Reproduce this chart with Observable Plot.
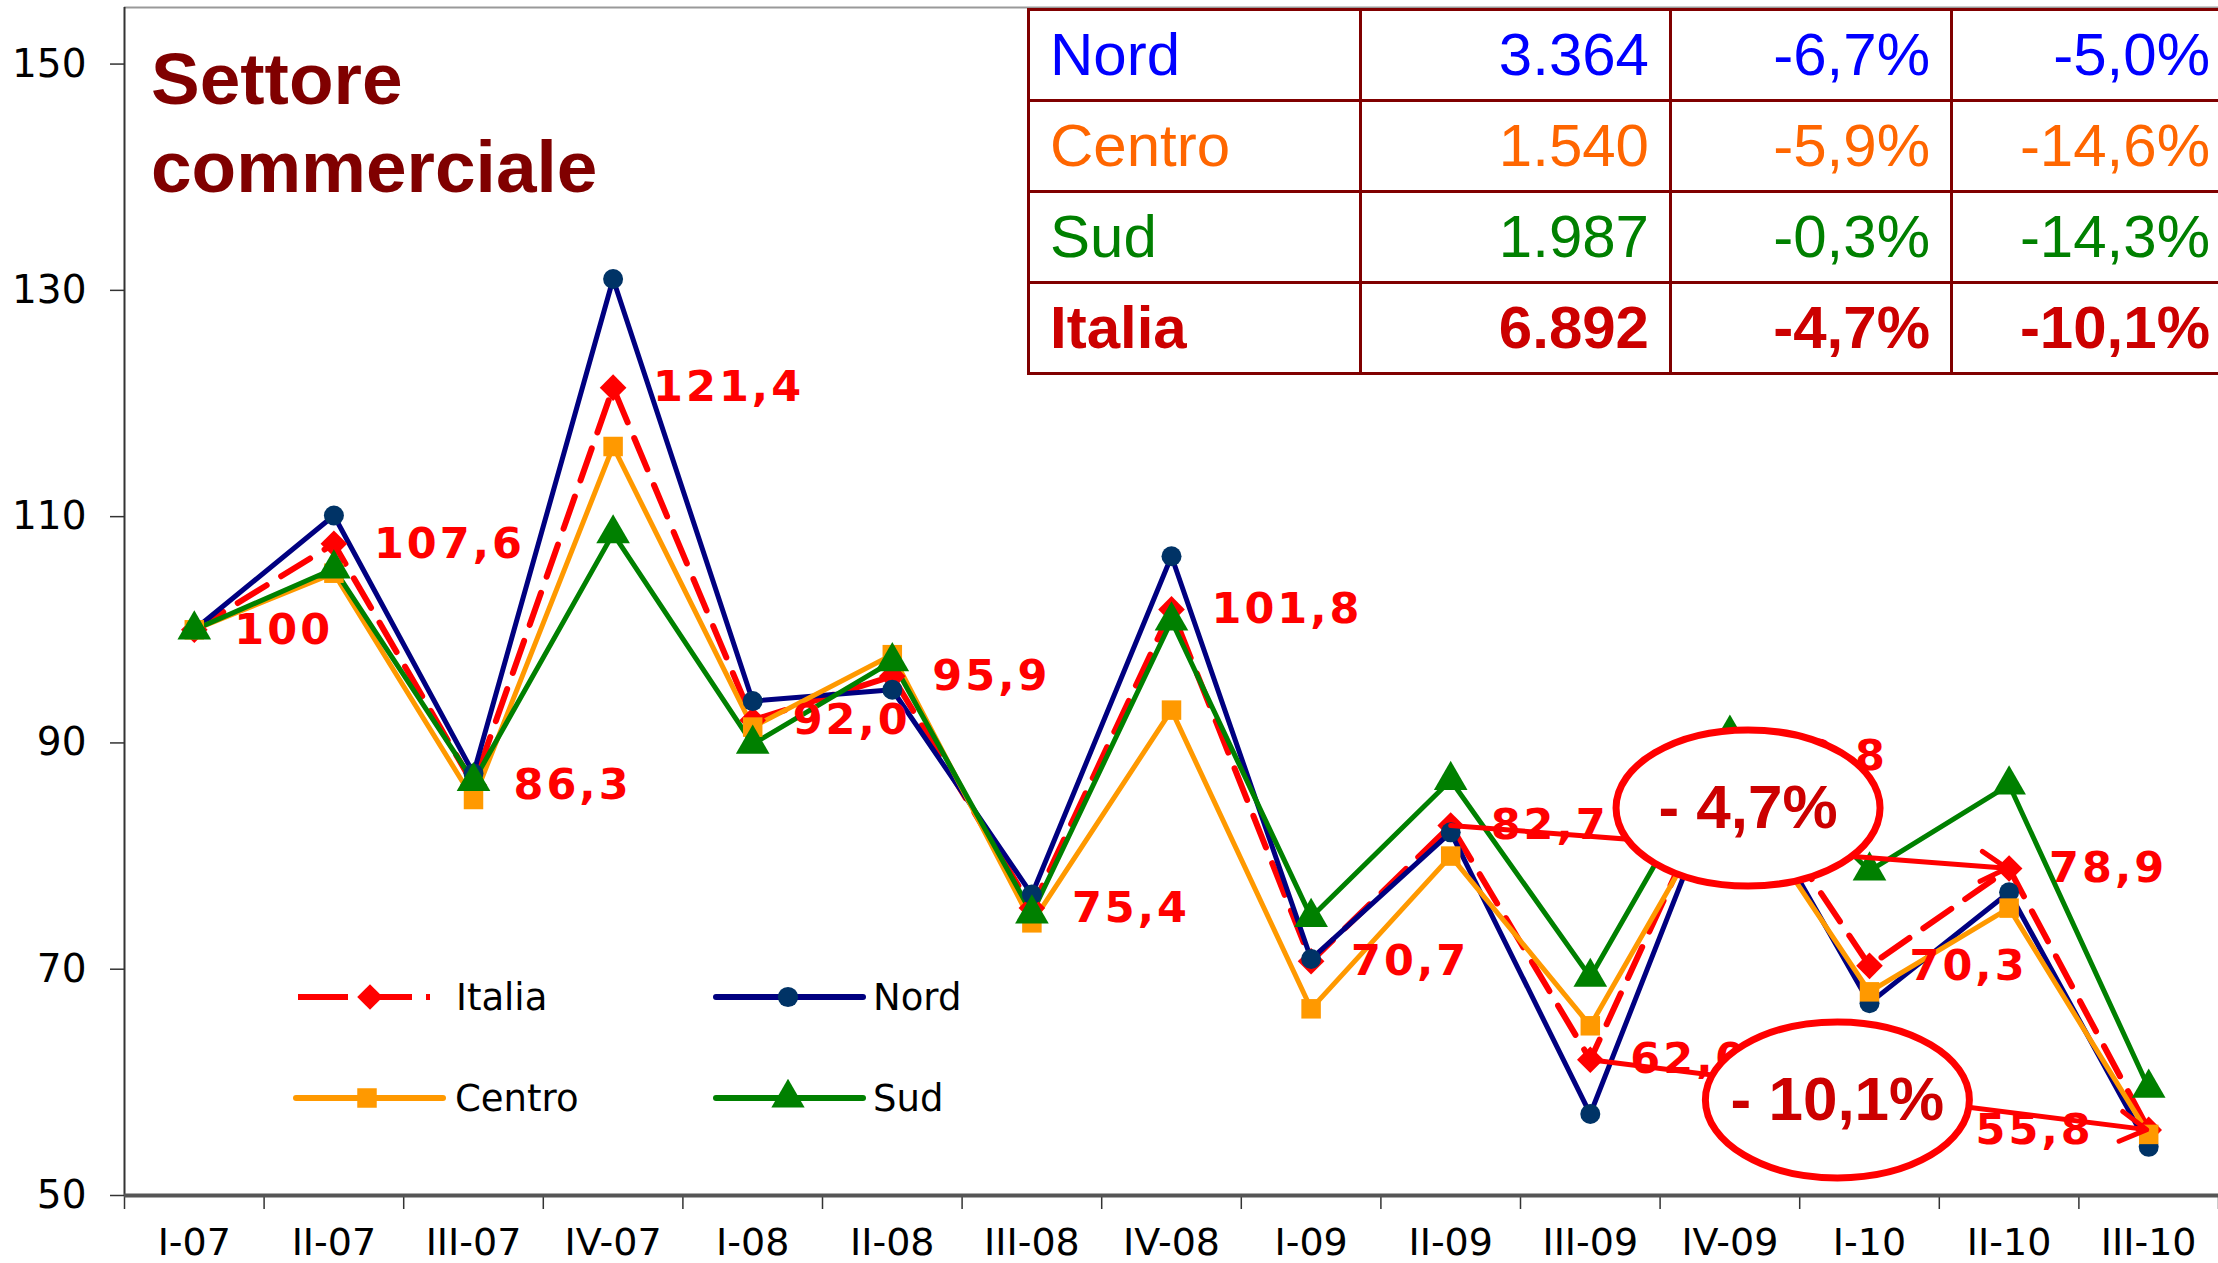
<!DOCTYPE html>
<html>
<head>
<meta charset="utf-8">
<script src="https://cdn.jsdelivr.net/npm/d3@7"></script>
<script src="https://cdn.jsdelivr.net/npm/@observablehq/plot@0.6"></script>
<style>
  html, body { margin: 0; padding: 0; background: #fff; overflow: hidden; }
  #wrap { position: relative; width: 2218px; height: 1263px; overflow: hidden; }
  #title { position: absolute; left: 151px; top: 35px; font-family: "Liberation Sans", Arial, sans-serif;
           font-weight: bold; font-size: 73px; line-height: 88px; color: #800000; }
  #tbl { position: absolute; left: 1027px; top: 8px; border-collapse: collapse; table-layout: fixed; width: 1203px;
         font-family: "Liberation Sans", Arial, sans-serif; font-size: 60px; background: #fff; }
  #tbl td { border: 3px solid #800000; height: 88px; padding: 0 20px; line-height: 88px; white-space: nowrap; overflow: hidden; }
  #tbl td.num { text-align: right; }
  .lbl text { letter-spacing: 3px; }
</style>
</head>
<body>
<div id="wrap">
  <div id="chart"></div>
  <div id="title">Settore<br>commerciale</div>
  <table id="tbl"><colgroup><col style="width:332px"><col style="width:310px"><col style="width:281px"><col style="width:280px"></colgroup></table>
</div>
<script>
// ---- data ----
const quarters = ["I-07","II-07","III-07","IV-07","I-08","II-08","III-08","IV-08","I-09","II-09","III-09","IV-09","I-10","II-10","III-10"];
const italia = [100, 107.6, 86.3, 121.4, 92.0, 95.9, 75.4, 101.8, 70.7, 82.7, 62.0, 88.8, 70.3, 78.9, 55.8];
const nord   = [100, 110.1, 87.3, 131.0, 93.7, 94.7, 76.6, 106.5, 70.9, 82.1, 57.2, 88.6, 67.0, 76.8, 54.3];
const centro = [100, 105.0, 85.0, 116.2, 91.4, 97.8, 74.1, 92.9, 66.5, 80.0, 65.0, 86.5, 68.0, 75.4, 55.4];
const sud    = [100, 105.4, 86.6, 108.5, 89.9, 97.2, 74.9, 100.8, 74.6, 86.7, 69.3, 90.8, 78.7, 86.3, 59.5];
const yTicks = [50, 70, 90, 110, 130, 150];

const tableNames  = ["Nord", "Centro", "Sud", "Italia"];
const tableTotals = ["3.364", "1.540", "1.987", "6.892"];
const tableVar1   = ["-6,7%", "-5,9%", "-0,3%", "-4,7%"];
const tableVar2   = ["-5,0%", "-14,6%", "-14,3%", "-10,1%"];
const tableColors = ["#0000FF", "#FF6600", "#008000", "#CC0000"];

// annotations: percentage change arrows (from index -> to index on Italia) and bubbles
const changeArrows = [{from: 9, to: 13}, {from: 10, to: 14}];
const bubbles = [{x: 11.63, y: 84.25, label: "- 4,7%"}, {x: 12.27, y: 58.45, label: "- 10,1%"}];

// ---- build ----
const pts = (vals) => vals.map((v, i) => ({x: i + 0.5, y: v, i}));
const dItalia = pts(italia), dNord = pts(nord), dCentro = pts(centro), dSud = pts(sud);
const fmt = v => v === 100 ? "100" : v.toFixed(1).replace(".", ",");

const C = {italia: "#FF0000", nord: "#000080", nordM: "#003366", centro: "#FF9900", sud: "#008000"};

const RX = 132, RY = 78, K = 0.5523;
const ellipseSymbol = {
  draw(ctx) {
    ctx.moveTo(RX, 0);
    ctx.bezierCurveTo(RX, K * RY, K * RX, RY, 0, RY);
    ctx.bezierCurveTo(-K * RX, RY, -RX, K * RY, -RX, 0);
    ctx.bezierCurveTo(-RX, -K * RY, -K * RX, -RY, 0, -RY);
    ctx.bezierCurveTo(K * RX, -RY, RX, -K * RY, RX, 0);
    ctx.closePath();
  }
};

const arrowData = changeArrows.map(a => ({x1: a.from + 0.5, y1: italia[a.from], x2: a.to + 0.5, y2: italia[a.to]}));

const chart = Plot.plot({
  width: 2218, height: 1263,
  marginLeft: 124, marginRight: 0, marginTop: 7, marginBottom: 68,
  x: {type: "linear", domain: [0, 15], axis: null},
  y: {domain: [50, 155], axis: null},
  style: {fontFamily: "DejaVu Sans, sans-serif", fontSize: "38px", background: "#fff", color: "#000", overflow: "visible"},
  marks: [
    Plot.ruleY([155], {stroke: "#999", strokeWidth: 2}),
    Plot.axisY({ticks: yTicks, tickSize: 14, tickPadding: 24, fontSize: 39, stroke: "#333", strokeWidth: 1.5}),
    Plot.axisX({ticks: quarters.map((_, i) => i + 0.5), tickFormat: d => quarters[Math.floor(d)], tickSize: 0, tickPadding: 33, fontSize: 38}),
    Plot.axisX({ticks: d3.range(0, 16), tickFormat: () => "", tickSize: 14, stroke: "#333", strokeWidth: 1.5}),
    // series lines
    Plot.line(dItalia, {x: "x", y: "y", stroke: C.italia, strokeWidth: 6, strokeDasharray: "34,17"}),
    Plot.line(dNord, {x: "x", y: "y", stroke: C.nord, strokeWidth: 5}),
    Plot.line(dCentro, {x: "x", y: "y", stroke: C.centro, strokeWidth: 5}),
    Plot.line(dSud, {x: "x", y: "y", stroke: C.sud, strokeWidth: 5}),
    // markers
    Plot.dot(dItalia, {x: "x", y: "y", symbol: "diamond2", r: 12, fill: C.italia}),
    Plot.dot(dNord, {x: "x", y: "y", symbol: "circle", r: 10, fill: C.nordM}),
    Plot.dot(dCentro, {x: "x", y: "y", symbol: "square", r: 11, fill: C.centro}),
    Plot.dot(dSud, {x: "x", y: "y", symbol: "triangle", r: 12.5, fill: C.sud}),
    // axis lines
    Plot.ruleX([0], {stroke: "#333", strokeWidth: 2}),
    Plot.ruleY([50], {stroke: "#555", strokeWidth: 4}),
    // Italia value labels
    Plot.text(dItalia.filter(d => d.i < 14), {x: "x", y: "y", text: d => fmt(d.y), textAnchor: "start", dx: 40,
      fill: "#FF0000", fontWeight: "bold", fontSize: 43, fontFamily: "DejaVu Sans, sans-serif", className: "lbl"}),
    Plot.text(dItalia.filter(d => d.i === 14), {x: "x", y: "y", text: d => fmt(d.y), textAnchor: "end", dx: -55,
      fill: "#FF0000", fontWeight: "bold", fontSize: 43, fontFamily: "DejaVu Sans, sans-serif", className: "lbl"}),
    // change arrows
    Plot.arrow(arrowData, {x1: "x1", y1: "y1", x2: "x2", y2: "y2", stroke: "#FF0000", strokeWidth: 5, headLength: 9, insetEnd: 2}),
    // bubbles
    Plot.dot(bubbles, {x: "x", y: "y", symbol: ellipseSymbol, r: 10, fill: "#fff", stroke: "#FF0000", strokeWidth: 7}),
    Plot.text(bubbles, {x: "x", y: "y", text: "label", fill: "#CC0000", fontWeight: "bold", fontSize: 62,
      fontFamily: "Liberation Sans, Arial, sans-serif"})
  ]
});
document.getElementById("chart").appendChild(chart);

// ---- legend (inside plot area) ----
const svg = d3.select(chart);
const lg = svg.append("g").attr("font-family", "DejaVu Sans, sans-serif").attr("font-size", 37).attr("text-anchor", "start");
const legendItems = [
  {name: "Italia", color: C.italia, mcolor: C.italia, symbol: d3.symbolDiamond2, dash: "50,14", x0: 298, x1: 430, mx: 370, tx: 456, y: 997, size: 420},
  {name: "Nord", color: C.nord, mcolor: C.nordM, symbol: d3.symbolCircle, dash: null, x0: 716, x1: 863, mx: 788, tx: 873, y: 997, size: 320},
  {name: "Centro", color: C.centro, mcolor: C.centro, symbol: d3.symbolSquare, dash: null, x0: 296, x1: 443, mx: 367, tx: 455, y: 1098, size: 380},
  {name: "Sud", color: C.sud, mcolor: C.sud, symbol: d3.symbolTriangle, dash: null, x0: 716, x1: 863, mx: 788, tx: 873, y: 1098, size: 480}
];
for (const it of legendItems) {
  const l = lg.append("line").attr("x1", it.x0).attr("x2", it.x1).attr("y1", it.y).attr("y2", it.y)
    .attr("stroke", it.color).attr("stroke-width", 6).attr("stroke-linecap", it.dash ? "butt" : "round");
  if (it.dash) l.attr("stroke-dasharray", it.dash);
  lg.append("path").attr("d", d3.symbol(it.symbol, it.size)()).attr("transform", `translate(${it.mx},${it.y})`).attr("fill", it.mcolor);
  lg.append("text").attr("x", it.tx).attr("y", it.y).attr("dy", "0.35em").attr("text-anchor", "start").text(it.name);
}

// ---- table ----
const tbl = d3.select("#tbl");
tableNames.forEach((n, r) => {
  const tr = tbl.append("tr").style("color", tableColors[r]).style("font-weight", r === 3 ? "bold" : "normal");
  [n, tableTotals[r], tableVar1[r], tableVar2[r]].forEach((v, c) => {
    tr.append("td").attr("class", c ? "num" : null).text(v);
  });
});
</script>
</body>
</html>
